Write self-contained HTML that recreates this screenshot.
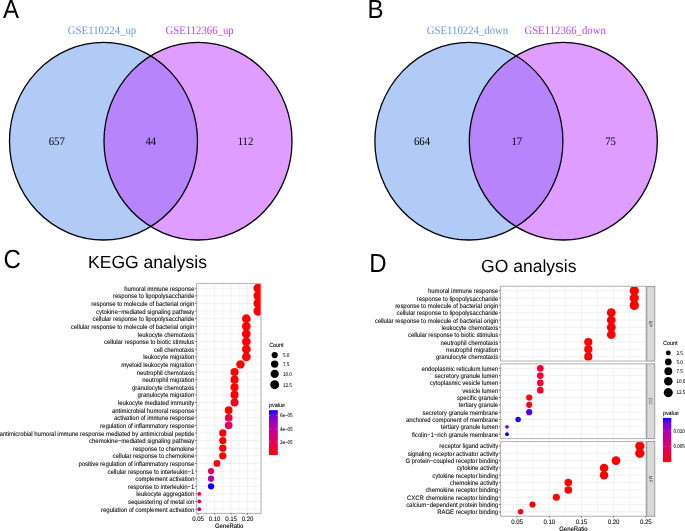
<!DOCTYPE html>
<html><head><meta charset="utf-8"><title>Figure</title>
<style>html,body{margin:0;padding:0;background:#fff;}svg{display:block;will-change:transform;}text{text-rendering:geometricPrecision;}</style></head>
<body><svg width="685" height="531" viewBox="0 0 685 531">
<rect width="685" height="531" fill="#fff"/>
<ellipse cx="103.5" cy="141.2" rx="94" ry="98.8" fill="#6495ED" fill-opacity="0.5"/>
<ellipse cx="198.0" cy="141.2" rx="94" ry="98.8" fill="#BF3EFF" fill-opacity="0.5"/>
<ellipse cx="103.5" cy="141.2" rx="94" ry="98.8" fill="none" stroke="#000" stroke-width="1.3"/>
<ellipse cx="198.0" cy="141.2" rx="94" ry="98.8" fill="none" stroke="#000" stroke-width="1.3"/>
<text transform="translate(102.00 33.50) scale(1.0000 1.0700)" font-family="'Liberation Serif', serif" font-size="10.750" fill="#6495ED" text-anchor="middle">GSE110224_up</text>
<text transform="translate(199.60 33.50) scale(1.0000 1.0700)" font-family="'Liberation Serif', serif" font-size="10.750" fill="#BF3EFF" text-anchor="middle">GSE112366_up</text>
<text transform="translate(56.75 144.90) scale(1.0000 1.0700)" font-family="'Liberation Serif', serif" font-size="10.750" fill="#000" text-anchor="middle">657</text>
<text transform="translate(150.80 144.90) scale(1.0000 1.0700)" font-family="'Liberation Serif', serif" font-size="10.750" fill="#000" text-anchor="middle">44</text>
<text transform="translate(245.50 144.90) scale(1.0000 1.0700)" font-family="'Liberation Serif', serif" font-size="10.750" fill="#000" text-anchor="middle">112</text>
<ellipse cx="468.9" cy="141.2" rx="94" ry="98.8" fill="#6495ED" fill-opacity="0.5"/>
<ellipse cx="563.3" cy="141.2" rx="94" ry="98.8" fill="#BF3EFF" fill-opacity="0.5"/>
<ellipse cx="468.9" cy="141.2" rx="94" ry="98.8" fill="none" stroke="#000" stroke-width="1.3"/>
<ellipse cx="563.3" cy="141.2" rx="94" ry="98.8" fill="none" stroke="#000" stroke-width="1.3"/>
<text transform="translate(467.50 33.50) scale(1.0000 1.0700)" font-family="'Liberation Serif', serif" font-size="10.750" fill="#6495ED" text-anchor="middle">GSE110224_down</text>
<text transform="translate(565.10 33.50) scale(1.0000 1.0700)" font-family="'Liberation Serif', serif" font-size="10.750" fill="#BF3EFF" text-anchor="middle">GSE112366_down</text>
<text transform="translate(422.00 144.90) scale(1.0000 1.0700)" font-family="'Liberation Serif', serif" font-size="10.750" fill="#000" text-anchor="middle">664</text>
<text transform="translate(516.80 144.90) scale(1.0000 1.0700)" font-family="'Liberation Serif', serif" font-size="10.750" fill="#000" text-anchor="middle">17</text>
<text transform="translate(610.50 144.90) scale(1.0000 1.0700)" font-family="'Liberation Serif', serif" font-size="10.750" fill="#000" text-anchor="middle">75</text>
<text transform="translate(3.00 17.90) scale(1.0000 1.0900)" font-family="'Liberation Sans', sans-serif" font-size="24.000" fill="#000">A</text>
<text transform="translate(367.50 17.90) scale(1.0000 1.0900)" font-family="'Liberation Sans', sans-serif" font-size="24.000" fill="#000">B</text>
<text transform="translate(3.50 268.20) scale(1.0000 1.0900)" font-family="'Liberation Sans', sans-serif" font-size="24.000" fill="#000">C</text>
<text transform="translate(369.20 272.10) scale(1.0000 1.0900)" font-family="'Liberation Sans', sans-serif" font-size="24.000" fill="#000">D</text>
<text x="88.10" y="267.80" font-family="'Liberation Sans', sans-serif" font-size="17.55" fill="#000">KEGG analysis</text>
<text x="481.00" y="271.80" font-family="'Liberation Sans', sans-serif" font-size="17.55" fill="#000">GO analysis</text>
<rect x="196.5" y="283.5" width="64.5" height="229.89999999999998" fill="#fff"/>
<line x1="206.33" y1="283.5" x2="206.33" y2="513.4" stroke="#f1f1f1" stroke-width="0.8"/>
<line x1="222.81" y1="283.5" x2="222.81" y2="513.4" stroke="#f1f1f1" stroke-width="0.8"/>
<line x1="239.27" y1="283.5" x2="239.27" y2="513.4" stroke="#f1f1f1" stroke-width="0.8"/>
<line x1="255.74" y1="283.5" x2="255.74" y2="513.4" stroke="#f1f1f1" stroke-width="0.8"/>
<line x1="198.10" y1="283.5" x2="198.10" y2="513.4" stroke="#f1f1f1" stroke-width="1"/>
<line x1="214.57" y1="283.5" x2="214.57" y2="513.4" stroke="#f1f1f1" stroke-width="1"/>
<line x1="231.04" y1="283.5" x2="231.04" y2="513.4" stroke="#f1f1f1" stroke-width="1"/>
<line x1="247.51" y1="283.5" x2="247.51" y2="513.4" stroke="#f1f1f1" stroke-width="1"/>
<line x1="196.5" y1="288.25" x2="261.0" y2="288.25" stroke="#f1f1f1" stroke-width="1"/>
<line x1="196.5" y1="295.87" x2="261.0" y2="295.87" stroke="#f1f1f1" stroke-width="1"/>
<line x1="196.5" y1="303.48" x2="261.0" y2="303.48" stroke="#f1f1f1" stroke-width="1"/>
<line x1="196.5" y1="311.10" x2="261.0" y2="311.10" stroke="#f1f1f1" stroke-width="1"/>
<line x1="196.5" y1="318.72" x2="261.0" y2="318.72" stroke="#f1f1f1" stroke-width="1"/>
<line x1="196.5" y1="326.34" x2="261.0" y2="326.34" stroke="#f1f1f1" stroke-width="1"/>
<line x1="196.5" y1="333.95" x2="261.0" y2="333.95" stroke="#f1f1f1" stroke-width="1"/>
<line x1="196.5" y1="341.57" x2="261.0" y2="341.57" stroke="#f1f1f1" stroke-width="1"/>
<line x1="196.5" y1="349.19" x2="261.0" y2="349.19" stroke="#f1f1f1" stroke-width="1"/>
<line x1="196.5" y1="356.81" x2="261.0" y2="356.81" stroke="#f1f1f1" stroke-width="1"/>
<line x1="196.5" y1="364.42" x2="261.0" y2="364.42" stroke="#f1f1f1" stroke-width="1"/>
<line x1="196.5" y1="372.04" x2="261.0" y2="372.04" stroke="#f1f1f1" stroke-width="1"/>
<line x1="196.5" y1="379.66" x2="261.0" y2="379.66" stroke="#f1f1f1" stroke-width="1"/>
<line x1="196.5" y1="387.27" x2="261.0" y2="387.27" stroke="#f1f1f1" stroke-width="1"/>
<line x1="196.5" y1="394.89" x2="261.0" y2="394.89" stroke="#f1f1f1" stroke-width="1"/>
<line x1="196.5" y1="402.51" x2="261.0" y2="402.51" stroke="#f1f1f1" stroke-width="1"/>
<line x1="196.5" y1="410.13" x2="261.0" y2="410.13" stroke="#f1f1f1" stroke-width="1"/>
<line x1="196.5" y1="417.74" x2="261.0" y2="417.74" stroke="#f1f1f1" stroke-width="1"/>
<line x1="196.5" y1="425.36" x2="261.0" y2="425.36" stroke="#f1f1f1" stroke-width="1"/>
<line x1="196.5" y1="432.98" x2="261.0" y2="432.98" stroke="#f1f1f1" stroke-width="1"/>
<line x1="196.5" y1="440.59" x2="261.0" y2="440.59" stroke="#f1f1f1" stroke-width="1"/>
<line x1="196.5" y1="448.21" x2="261.0" y2="448.21" stroke="#f1f1f1" stroke-width="1"/>
<line x1="196.5" y1="455.83" x2="261.0" y2="455.83" stroke="#f1f1f1" stroke-width="1"/>
<line x1="196.5" y1="463.45" x2="261.0" y2="463.45" stroke="#f1f1f1" stroke-width="1"/>
<line x1="196.5" y1="471.06" x2="261.0" y2="471.06" stroke="#f1f1f1" stroke-width="1"/>
<line x1="196.5" y1="478.68" x2="261.0" y2="478.68" stroke="#f1f1f1" stroke-width="1"/>
<line x1="196.5" y1="486.30" x2="261.0" y2="486.30" stroke="#f1f1f1" stroke-width="1"/>
<line x1="196.5" y1="493.92" x2="261.0" y2="493.92" stroke="#f1f1f1" stroke-width="1"/>
<line x1="196.5" y1="501.53" x2="261.0" y2="501.53" stroke="#f1f1f1" stroke-width="1"/>
<line x1="196.5" y1="509.15" x2="261.0" y2="509.15" stroke="#f1f1f1" stroke-width="1"/>
<clipPath id="ck"><rect x="196.5" y="283.5" width="64.5" height="229.89999999999998"/></clipPath>
<g clip-path="url(#ck)">
<circle cx="258.10" cy="288.25" r="4.65" fill="#ff0000"/>
<circle cx="258.10" cy="295.87" r="4.65" fill="#ff0000"/>
<circle cx="258.10" cy="303.48" r="4.65" fill="#ff0000"/>
<circle cx="258.10" cy="311.10" r="4.65" fill="#ff0000"/>
<circle cx="246.33" cy="318.72" r="4.36" fill="#ff0000"/>
<circle cx="246.33" cy="326.34" r="4.36" fill="#ff0000"/>
<circle cx="246.33" cy="333.95" r="4.36" fill="#ff0000"/>
<circle cx="246.33" cy="341.57" r="4.36" fill="#ff0000"/>
<circle cx="246.33" cy="349.19" r="4.36" fill="#ff0000"/>
<circle cx="246.33" cy="356.81" r="4.36" fill="#ff0000"/>
<circle cx="240.45" cy="364.42" r="4.20" fill="#ff0000"/>
<circle cx="234.57" cy="372.04" r="4.04" fill="#ff0000"/>
<circle cx="234.57" cy="379.66" r="4.04" fill="#ff0000"/>
<circle cx="234.57" cy="387.27" r="4.04" fill="#ff0000"/>
<circle cx="234.57" cy="394.89" r="4.04" fill="#ff0000"/>
<circle cx="234.57" cy="402.51" r="4.04" fill="#f6002a"/>
<circle cx="228.69" cy="410.13" r="3.85" fill="#ff0000"/>
<circle cx="228.69" cy="417.74" r="3.85" fill="#eb0048"/>
<circle cx="228.69" cy="425.36" r="3.85" fill="#e3005b"/>
<circle cx="222.81" cy="432.98" r="3.65" fill="#ff0000"/>
<circle cx="222.81" cy="440.59" r="3.65" fill="#ff0000"/>
<circle cx="222.81" cy="448.21" r="3.65" fill="#ff0000"/>
<circle cx="222.81" cy="455.83" r="3.65" fill="#ff0000"/>
<circle cx="216.92" cy="463.45" r="3.42" fill="#fc0012"/>
<circle cx="211.04" cy="471.06" r="3.14" fill="#df0062"/>
<circle cx="211.04" cy="478.68" r="3.14" fill="#ae00ad"/>
<circle cx="211.04" cy="486.30" r="3.14" fill="#0000ff"/>
<circle cx="199.28" cy="493.92" r="1.93" fill="#f90021"/>
<circle cx="199.28" cy="501.53" r="1.93" fill="#f50030"/>
<circle cx="199.28" cy="509.15" r="1.93" fill="#ca0088"/>
</g>
<rect x="196.5" y="283.5" width="64.5" height="229.89999999999998" fill="none" stroke="#bababa" stroke-width="1.15"/>
<line x1="195.1" y1="288.25" x2="196.5" y2="288.25" stroke="#333" stroke-width="0.7"/>
<text transform="translate(194.20 290.80) scale(0.2500 0.2750)" font-family="'Liberation Sans', sans-serif" font-size="23.680" fill="#111" text-anchor="end">humoral immune response</text>
<text transform="translate(194.45 290.80) scale(0.2500 0.2750)" font-family="'Liberation Sans', sans-serif" font-size="23.680" fill="#111" fill-opacity="0.4" text-anchor="end">humoral immune response</text>
<line x1="195.1" y1="295.87" x2="196.5" y2="295.87" stroke="#333" stroke-width="0.7"/>
<text transform="translate(194.20 298.42) scale(0.2500 0.2750)" font-family="'Liberation Sans', sans-serif" font-size="23.680" fill="#111" text-anchor="end">response to lipopolysaccharide</text>
<text transform="translate(194.45 298.42) scale(0.2500 0.2750)" font-family="'Liberation Sans', sans-serif" font-size="23.680" fill="#111" fill-opacity="0.4" text-anchor="end">response to lipopolysaccharide</text>
<line x1="195.1" y1="303.48" x2="196.5" y2="303.48" stroke="#333" stroke-width="0.7"/>
<text transform="translate(194.20 306.03) scale(0.2500 0.2750)" font-family="'Liberation Sans', sans-serif" font-size="23.680" fill="#111" text-anchor="end">response to molecule of bacterial origin</text>
<text transform="translate(194.45 306.03) scale(0.2500 0.2750)" font-family="'Liberation Sans', sans-serif" font-size="23.680" fill="#111" fill-opacity="0.4" text-anchor="end">response to molecule of bacterial origin</text>
<line x1="195.1" y1="311.10" x2="196.5" y2="311.10" stroke="#333" stroke-width="0.7"/>
<text transform="translate(194.20 313.65) scale(0.2500 0.2750)" font-family="'Liberation Sans', sans-serif" font-size="23.680" fill="#111" text-anchor="end">cytokine−mediated signaling pathway</text>
<text transform="translate(194.45 313.65) scale(0.2500 0.2750)" font-family="'Liberation Sans', sans-serif" font-size="23.680" fill="#111" fill-opacity="0.4" text-anchor="end">cytokine−mediated signaling pathway</text>
<line x1="195.1" y1="318.72" x2="196.5" y2="318.72" stroke="#333" stroke-width="0.7"/>
<text transform="translate(194.20 321.27) scale(0.2500 0.2750)" font-family="'Liberation Sans', sans-serif" font-size="23.680" fill="#111" text-anchor="end">cellular response to lipopolysaccharide</text>
<text transform="translate(194.45 321.27) scale(0.2500 0.2750)" font-family="'Liberation Sans', sans-serif" font-size="23.680" fill="#111" fill-opacity="0.4" text-anchor="end">cellular response to lipopolysaccharide</text>
<line x1="195.1" y1="326.34" x2="196.5" y2="326.34" stroke="#333" stroke-width="0.7"/>
<text transform="translate(194.20 328.89) scale(0.2500 0.2750)" font-family="'Liberation Sans', sans-serif" font-size="23.680" fill="#111" text-anchor="end">cellular response to molecule of bacterial origin</text>
<text transform="translate(194.45 328.89) scale(0.2500 0.2750)" font-family="'Liberation Sans', sans-serif" font-size="23.680" fill="#111" fill-opacity="0.4" text-anchor="end">cellular response to molecule of bacterial origin</text>
<line x1="195.1" y1="333.95" x2="196.5" y2="333.95" stroke="#333" stroke-width="0.7"/>
<text transform="translate(194.20 336.50) scale(0.2500 0.2750)" font-family="'Liberation Sans', sans-serif" font-size="23.680" fill="#111" text-anchor="end">leukocyte chemotaxis</text>
<text transform="translate(194.45 336.50) scale(0.2500 0.2750)" font-family="'Liberation Sans', sans-serif" font-size="23.680" fill="#111" fill-opacity="0.4" text-anchor="end">leukocyte chemotaxis</text>
<line x1="195.1" y1="341.57" x2="196.5" y2="341.57" stroke="#333" stroke-width="0.7"/>
<text transform="translate(194.20 344.12) scale(0.2500 0.2750)" font-family="'Liberation Sans', sans-serif" font-size="23.680" fill="#111" text-anchor="end">cellular response to biotic stimulus</text>
<text transform="translate(194.45 344.12) scale(0.2500 0.2750)" font-family="'Liberation Sans', sans-serif" font-size="23.680" fill="#111" fill-opacity="0.4" text-anchor="end">cellular response to biotic stimulus</text>
<line x1="195.1" y1="349.19" x2="196.5" y2="349.19" stroke="#333" stroke-width="0.7"/>
<text transform="translate(194.20 351.74) scale(0.2500 0.2750)" font-family="'Liberation Sans', sans-serif" font-size="23.680" fill="#111" text-anchor="end">cell chemotaxis</text>
<text transform="translate(194.45 351.74) scale(0.2500 0.2750)" font-family="'Liberation Sans', sans-serif" font-size="23.680" fill="#111" fill-opacity="0.4" text-anchor="end">cell chemotaxis</text>
<line x1="195.1" y1="356.81" x2="196.5" y2="356.81" stroke="#333" stroke-width="0.7"/>
<text transform="translate(194.20 359.36) scale(0.2500 0.2750)" font-family="'Liberation Sans', sans-serif" font-size="23.680" fill="#111" text-anchor="end">leukocyte migration</text>
<text transform="translate(194.45 359.36) scale(0.2500 0.2750)" font-family="'Liberation Sans', sans-serif" font-size="23.680" fill="#111" fill-opacity="0.4" text-anchor="end">leukocyte migration</text>
<line x1="195.1" y1="364.42" x2="196.5" y2="364.42" stroke="#333" stroke-width="0.7"/>
<text transform="translate(194.20 366.97) scale(0.2500 0.2750)" font-family="'Liberation Sans', sans-serif" font-size="23.680" fill="#111" text-anchor="end">myeloid leukocyte migration</text>
<text transform="translate(194.45 366.97) scale(0.2500 0.2750)" font-family="'Liberation Sans', sans-serif" font-size="23.680" fill="#111" fill-opacity="0.4" text-anchor="end">myeloid leukocyte migration</text>
<line x1="195.1" y1="372.04" x2="196.5" y2="372.04" stroke="#333" stroke-width="0.7"/>
<text transform="translate(194.20 374.59) scale(0.2500 0.2750)" font-family="'Liberation Sans', sans-serif" font-size="23.680" fill="#111" text-anchor="end">neutrophil chemotaxis</text>
<text transform="translate(194.45 374.59) scale(0.2500 0.2750)" font-family="'Liberation Sans', sans-serif" font-size="23.680" fill="#111" fill-opacity="0.4" text-anchor="end">neutrophil chemotaxis</text>
<line x1="195.1" y1="379.66" x2="196.5" y2="379.66" stroke="#333" stroke-width="0.7"/>
<text transform="translate(194.20 382.21) scale(0.2500 0.2750)" font-family="'Liberation Sans', sans-serif" font-size="23.680" fill="#111" text-anchor="end">neutrophil migration</text>
<text transform="translate(194.45 382.21) scale(0.2500 0.2750)" font-family="'Liberation Sans', sans-serif" font-size="23.680" fill="#111" fill-opacity="0.4" text-anchor="end">neutrophil migration</text>
<line x1="195.1" y1="387.27" x2="196.5" y2="387.27" stroke="#333" stroke-width="0.7"/>
<text transform="translate(194.20 389.82) scale(0.2500 0.2750)" font-family="'Liberation Sans', sans-serif" font-size="23.680" fill="#111" text-anchor="end">granulocyte chemotaxis</text>
<text transform="translate(194.45 389.82) scale(0.2500 0.2750)" font-family="'Liberation Sans', sans-serif" font-size="23.680" fill="#111" fill-opacity="0.4" text-anchor="end">granulocyte chemotaxis</text>
<line x1="195.1" y1="394.89" x2="196.5" y2="394.89" stroke="#333" stroke-width="0.7"/>
<text transform="translate(194.20 397.44) scale(0.2500 0.2750)" font-family="'Liberation Sans', sans-serif" font-size="23.680" fill="#111" text-anchor="end">granulocyte migration</text>
<text transform="translate(194.45 397.44) scale(0.2500 0.2750)" font-family="'Liberation Sans', sans-serif" font-size="23.680" fill="#111" fill-opacity="0.4" text-anchor="end">granulocyte migration</text>
<line x1="195.1" y1="402.51" x2="196.5" y2="402.51" stroke="#333" stroke-width="0.7"/>
<text transform="translate(194.20 405.06) scale(0.2500 0.2750)" font-family="'Liberation Sans', sans-serif" font-size="23.680" fill="#111" text-anchor="end">leukocyte mediated immunity</text>
<text transform="translate(194.45 405.06) scale(0.2500 0.2750)" font-family="'Liberation Sans', sans-serif" font-size="23.680" fill="#111" fill-opacity="0.4" text-anchor="end">leukocyte mediated immunity</text>
<line x1="195.1" y1="410.13" x2="196.5" y2="410.13" stroke="#333" stroke-width="0.7"/>
<text transform="translate(194.20 412.68) scale(0.2500 0.2750)" font-family="'Liberation Sans', sans-serif" font-size="23.680" fill="#111" text-anchor="end">antimicrobial humoral response</text>
<text transform="translate(194.45 412.68) scale(0.2500 0.2750)" font-family="'Liberation Sans', sans-serif" font-size="23.680" fill="#111" fill-opacity="0.4" text-anchor="end">antimicrobial humoral response</text>
<line x1="195.1" y1="417.74" x2="196.5" y2="417.74" stroke="#333" stroke-width="0.7"/>
<text transform="translate(194.20 420.29) scale(0.2500 0.2750)" font-family="'Liberation Sans', sans-serif" font-size="23.680" fill="#111" text-anchor="end">activation of immune response</text>
<text transform="translate(194.45 420.29) scale(0.2500 0.2750)" font-family="'Liberation Sans', sans-serif" font-size="23.680" fill="#111" fill-opacity="0.4" text-anchor="end">activation of immune response</text>
<line x1="195.1" y1="425.36" x2="196.5" y2="425.36" stroke="#333" stroke-width="0.7"/>
<text transform="translate(194.20 427.91) scale(0.2500 0.2750)" font-family="'Liberation Sans', sans-serif" font-size="23.680" fill="#111" text-anchor="end">regulation of inflammatory response</text>
<text transform="translate(194.45 427.91) scale(0.2500 0.2750)" font-family="'Liberation Sans', sans-serif" font-size="23.680" fill="#111" fill-opacity="0.4" text-anchor="end">regulation of inflammatory response</text>
<line x1="195.1" y1="432.98" x2="196.5" y2="432.98" stroke="#333" stroke-width="0.7"/>
<text transform="translate(194.20 435.53) scale(0.2500 0.2750)" font-family="'Liberation Sans', sans-serif" font-size="23.680" fill="#111" text-anchor="end">antimicrobial humoral immune response mediated by antimicrobial peptide</text>
<text transform="translate(194.45 435.53) scale(0.2500 0.2750)" font-family="'Liberation Sans', sans-serif" font-size="23.680" fill="#111" fill-opacity="0.4" text-anchor="end">antimicrobial humoral immune response mediated by antimicrobial peptide</text>
<line x1="195.1" y1="440.59" x2="196.5" y2="440.59" stroke="#333" stroke-width="0.7"/>
<text transform="translate(194.20 443.14) scale(0.2500 0.2750)" font-family="'Liberation Sans', sans-serif" font-size="23.680" fill="#111" text-anchor="end">chemokine−mediated signaling pathway</text>
<text transform="translate(194.45 443.14) scale(0.2500 0.2750)" font-family="'Liberation Sans', sans-serif" font-size="23.680" fill="#111" fill-opacity="0.4" text-anchor="end">chemokine−mediated signaling pathway</text>
<line x1="195.1" y1="448.21" x2="196.5" y2="448.21" stroke="#333" stroke-width="0.7"/>
<text transform="translate(194.20 450.76) scale(0.2500 0.2750)" font-family="'Liberation Sans', sans-serif" font-size="23.680" fill="#111" text-anchor="end">response to chemokine</text>
<text transform="translate(194.45 450.76) scale(0.2500 0.2750)" font-family="'Liberation Sans', sans-serif" font-size="23.680" fill="#111" fill-opacity="0.4" text-anchor="end">response to chemokine</text>
<line x1="195.1" y1="455.83" x2="196.5" y2="455.83" stroke="#333" stroke-width="0.7"/>
<text transform="translate(194.20 458.38) scale(0.2500 0.2750)" font-family="'Liberation Sans', sans-serif" font-size="23.680" fill="#111" text-anchor="end">cellular response to chemokine</text>
<text transform="translate(194.45 458.38) scale(0.2500 0.2750)" font-family="'Liberation Sans', sans-serif" font-size="23.680" fill="#111" fill-opacity="0.4" text-anchor="end">cellular response to chemokine</text>
<line x1="195.1" y1="463.45" x2="196.5" y2="463.45" stroke="#333" stroke-width="0.7"/>
<text transform="translate(194.20 466.00) scale(0.2500 0.2750)" font-family="'Liberation Sans', sans-serif" font-size="23.680" fill="#111" text-anchor="end">positive regulation of inflammatory response</text>
<text transform="translate(194.45 466.00) scale(0.2500 0.2750)" font-family="'Liberation Sans', sans-serif" font-size="23.680" fill="#111" fill-opacity="0.4" text-anchor="end">positive regulation of inflammatory response</text>
<line x1="195.1" y1="471.06" x2="196.5" y2="471.06" stroke="#333" stroke-width="0.7"/>
<text transform="translate(194.20 473.61) scale(0.2500 0.2750)" font-family="'Liberation Sans', sans-serif" font-size="23.680" fill="#111" text-anchor="end">cellular response to interleukin−1</text>
<text transform="translate(194.45 473.61) scale(0.2500 0.2750)" font-family="'Liberation Sans', sans-serif" font-size="23.680" fill="#111" fill-opacity="0.4" text-anchor="end">cellular response to interleukin−1</text>
<line x1="195.1" y1="478.68" x2="196.5" y2="478.68" stroke="#333" stroke-width="0.7"/>
<text transform="translate(194.20 481.23) scale(0.2500 0.2750)" font-family="'Liberation Sans', sans-serif" font-size="23.680" fill="#111" text-anchor="end">complement activation</text>
<text transform="translate(194.45 481.23) scale(0.2500 0.2750)" font-family="'Liberation Sans', sans-serif" font-size="23.680" fill="#111" fill-opacity="0.4" text-anchor="end">complement activation</text>
<line x1="195.1" y1="486.30" x2="196.5" y2="486.30" stroke="#333" stroke-width="0.7"/>
<text transform="translate(194.20 488.85) scale(0.2500 0.2750)" font-family="'Liberation Sans', sans-serif" font-size="23.680" fill="#111" text-anchor="end">response to interleukin−1</text>
<text transform="translate(194.45 488.85) scale(0.2500 0.2750)" font-family="'Liberation Sans', sans-serif" font-size="23.680" fill="#111" fill-opacity="0.4" text-anchor="end">response to interleukin−1</text>
<line x1="195.1" y1="493.92" x2="196.5" y2="493.92" stroke="#333" stroke-width="0.7"/>
<text transform="translate(194.20 496.47) scale(0.2500 0.2750)" font-family="'Liberation Sans', sans-serif" font-size="23.680" fill="#111" text-anchor="end">leukocyte aggregation</text>
<text transform="translate(194.45 496.47) scale(0.2500 0.2750)" font-family="'Liberation Sans', sans-serif" font-size="23.680" fill="#111" fill-opacity="0.4" text-anchor="end">leukocyte aggregation</text>
<line x1="195.1" y1="501.53" x2="196.5" y2="501.53" stroke="#333" stroke-width="0.7"/>
<text transform="translate(194.20 504.08) scale(0.2500 0.2750)" font-family="'Liberation Sans', sans-serif" font-size="23.680" fill="#111" text-anchor="end">sequestering of metal ion</text>
<text transform="translate(194.45 504.08) scale(0.2500 0.2750)" font-family="'Liberation Sans', sans-serif" font-size="23.680" fill="#111" fill-opacity="0.4" text-anchor="end">sequestering of metal ion</text>
<line x1="195.1" y1="509.15" x2="196.5" y2="509.15" stroke="#333" stroke-width="0.7"/>
<text transform="translate(194.20 511.70) scale(0.2500 0.2750)" font-family="'Liberation Sans', sans-serif" font-size="23.680" fill="#111" text-anchor="end">regulation of complement activation</text>
<text transform="translate(194.45 511.70) scale(0.2500 0.2750)" font-family="'Liberation Sans', sans-serif" font-size="23.680" fill="#111" fill-opacity="0.4" text-anchor="end">regulation of complement activation</text>
<line x1="198.10" y1="513.4" x2="198.10" y2="514.8" stroke="#333" stroke-width="0.7"/>
<text transform="translate(198.10 520.80) scale(0.2500 0.2750)" font-family="'Liberation Sans', sans-serif" font-size="23.680" fill="#111" text-anchor="middle">0.05</text>
<text transform="translate(198.35 520.80) scale(0.2500 0.2750)" font-family="'Liberation Sans', sans-serif" font-size="23.680" fill="#111" fill-opacity="0.4" text-anchor="middle">0.05</text>
<line x1="214.57" y1="513.4" x2="214.57" y2="514.8" stroke="#333" stroke-width="0.7"/>
<text transform="translate(214.57 520.80) scale(0.2500 0.2750)" font-family="'Liberation Sans', sans-serif" font-size="23.680" fill="#111" text-anchor="middle">0.10</text>
<text transform="translate(214.82 520.80) scale(0.2500 0.2750)" font-family="'Liberation Sans', sans-serif" font-size="23.680" fill="#111" fill-opacity="0.4" text-anchor="middle">0.10</text>
<line x1="231.04" y1="513.4" x2="231.04" y2="514.8" stroke="#333" stroke-width="0.7"/>
<text transform="translate(231.04 520.80) scale(0.2500 0.2750)" font-family="'Liberation Sans', sans-serif" font-size="23.680" fill="#111" text-anchor="middle">0.15</text>
<text transform="translate(231.29 520.80) scale(0.2500 0.2750)" font-family="'Liberation Sans', sans-serif" font-size="23.680" fill="#111" fill-opacity="0.4" text-anchor="middle">0.15</text>
<line x1="247.51" y1="513.4" x2="247.51" y2="514.8" stroke="#333" stroke-width="0.7"/>
<text transform="translate(247.51 520.80) scale(0.2500 0.2750)" font-family="'Liberation Sans', sans-serif" font-size="23.680" fill="#111" text-anchor="middle">0.20</text>
<text transform="translate(247.76 520.80) scale(0.2500 0.2750)" font-family="'Liberation Sans', sans-serif" font-size="23.680" fill="#111" fill-opacity="0.4" text-anchor="middle">0.20</text>
<text transform="translate(229.10 527.60) scale(0.2500 0.2750)" font-family="'Liberation Sans', sans-serif" font-size="23.680" fill="#000" text-anchor="middle">GeneRatio</text>
<text transform="translate(229.35 527.60) scale(0.2500 0.2750)" font-family="'Liberation Sans', sans-serif" font-size="23.680" fill="#000" fill-opacity="0.4" text-anchor="middle">GeneRatio</text>
<text transform="translate(269.20 347.20) scale(0.2500 0.2750)" font-family="'Liberation Sans', sans-serif" font-size="21.600" fill="#000">Count</text>
<text transform="translate(269.45 347.20) scale(0.2500 0.2750)" font-family="'Liberation Sans', sans-serif" font-size="21.600" fill="#000" fill-opacity="0.4">Count</text>
<circle cx="274.7" cy="355.1" r="3.1" fill="#000"/>
<text transform="translate(283.10 356.90) scale(0.2500 0.3000)" font-family="'Liberation Sans', sans-serif" font-size="17.800" fill="#111">5.0</text>
<text transform="translate(283.35 356.90) scale(0.2500 0.3000)" font-family="'Liberation Sans', sans-serif" font-size="17.800" fill="#111" fill-opacity="0.4">5.0</text>
<circle cx="274.7" cy="364.1" r="3.7" fill="#000"/>
<text transform="translate(283.10 365.90) scale(0.2500 0.3000)" font-family="'Liberation Sans', sans-serif" font-size="17.800" fill="#111">7.5</text>
<text transform="translate(283.35 365.90) scale(0.2500 0.3000)" font-family="'Liberation Sans', sans-serif" font-size="17.800" fill="#111" fill-opacity="0.4">7.5</text>
<circle cx="274.7" cy="373.9" r="4.125" fill="#000"/>
<text transform="translate(283.10 375.70) scale(0.2500 0.3000)" font-family="'Liberation Sans', sans-serif" font-size="17.800" fill="#111">10.0</text>
<text transform="translate(283.35 375.70) scale(0.2500 0.3000)" font-family="'Liberation Sans', sans-serif" font-size="17.800" fill="#111" fill-opacity="0.4">10.0</text>
<circle cx="274.7" cy="384.7" r="4.45" fill="#000"/>
<text transform="translate(283.10 386.50) scale(0.2500 0.3000)" font-family="'Liberation Sans', sans-serif" font-size="17.800" fill="#111">12.5</text>
<text transform="translate(283.35 386.50) scale(0.2500 0.3000)" font-family="'Liberation Sans', sans-serif" font-size="17.800" fill="#111" fill-opacity="0.4">12.5</text>
<text transform="translate(269.00 407.30) scale(0.2500 0.2750)" font-family="'Liberation Sans', sans-serif" font-size="21.600" fill="#000">pvalue</text>
<text transform="translate(269.25 407.30) scale(0.2500 0.2750)" font-family="'Liberation Sans', sans-serif" font-size="21.600" fill="#000" fill-opacity="0.4">pvalue</text>
<linearGradient id="gk" x1="0" y1="0" x2="0" y2="1"><stop offset="0.0" stop-color="#0000ff"/><stop offset="0.1" stop-color="#6800e7"/><stop offset="0.2" stop-color="#8d00ce"/><stop offset="0.3" stop-color="#a600b7"/><stop offset="0.4" stop-color="#ba009f"/><stop offset="0.5" stop-color="#ca0088"/><stop offset="0.6" stop-color="#d70072"/><stop offset="0.7" stop-color="#e3005b"/><stop offset="0.8" stop-color="#ed0044"/><stop offset="0.9" stop-color="#f6002a"/><stop offset="1.0" stop-color="#ff0000"/></linearGradient>
<rect x="269" y="410.2" width="8.80" height="44.80" fill="url(#gk)"/>
<line x1="269" y1="415.4" x2="270.6" y2="415.4" stroke="#fff" stroke-width="0.5" stroke-opacity="0.6"/>
<line x1="276.2" y1="415.4" x2="277.8" y2="415.4" stroke="#fff" stroke-width="0.5" stroke-opacity="0.6"/>
<text transform="translate(280.00 417.20) scale(0.2500 0.3000)" font-family="'Liberation Sans', sans-serif" font-size="17.800" fill="#111">6e−05</text>
<text transform="translate(280.25 417.20) scale(0.2500 0.3000)" font-family="'Liberation Sans', sans-serif" font-size="17.800" fill="#111" fill-opacity="0.4">6e−05</text>
<line x1="269" y1="428.9" x2="270.6" y2="428.9" stroke="#fff" stroke-width="0.5" stroke-opacity="0.6"/>
<line x1="276.2" y1="428.9" x2="277.8" y2="428.9" stroke="#fff" stroke-width="0.5" stroke-opacity="0.6"/>
<text transform="translate(280.00 430.70) scale(0.2500 0.3000)" font-family="'Liberation Sans', sans-serif" font-size="17.800" fill="#111">4e−05</text>
<text transform="translate(280.25 430.70) scale(0.2500 0.3000)" font-family="'Liberation Sans', sans-serif" font-size="17.800" fill="#111" fill-opacity="0.4">4e−05</text>
<line x1="269" y1="441.8" x2="270.6" y2="441.8" stroke="#fff" stroke-width="0.5" stroke-opacity="0.6"/>
<line x1="276.2" y1="441.8" x2="277.8" y2="441.8" stroke="#fff" stroke-width="0.5" stroke-opacity="0.6"/>
<text transform="translate(280.00 443.60) scale(0.2500 0.3000)" font-family="'Liberation Sans', sans-serif" font-size="17.800" fill="#111">2e−05</text>
<text transform="translate(280.25 443.60) scale(0.2500 0.3000)" font-family="'Liberation Sans', sans-serif" font-size="17.800" fill="#111" fill-opacity="0.4">2e−05</text>
<rect x="500.4" y="286.35" width="145.89999999999998" height="74.69999999999999" fill="#fff"/>
<line x1="500.90" y1="286.35" x2="500.90" y2="361.05" stroke="#f1f1f1" stroke-width="0.8"/>
<line x1="533.10" y1="286.35" x2="533.10" y2="361.05" stroke="#f1f1f1" stroke-width="0.8"/>
<line x1="565.30" y1="286.35" x2="565.30" y2="361.05" stroke="#f1f1f1" stroke-width="0.8"/>
<line x1="597.50" y1="286.35" x2="597.50" y2="361.05" stroke="#f1f1f1" stroke-width="0.8"/>
<line x1="629.70" y1="286.35" x2="629.70" y2="361.05" stroke="#f1f1f1" stroke-width="0.8"/>
<line x1="517.00" y1="286.35" x2="517.00" y2="361.05" stroke="#f1f1f1" stroke-width="1"/>
<line x1="549.20" y1="286.35" x2="549.20" y2="361.05" stroke="#f1f1f1" stroke-width="1"/>
<line x1="581.40" y1="286.35" x2="581.40" y2="361.05" stroke="#f1f1f1" stroke-width="1"/>
<line x1="613.60" y1="286.35" x2="613.60" y2="361.05" stroke="#f1f1f1" stroke-width="1"/>
<line x1="645.80" y1="286.35" x2="645.80" y2="361.05" stroke="#f1f1f1" stroke-width="1"/>
<line x1="500.4" y1="290.74" x2="646.3" y2="290.74" stroke="#f1f1f1" stroke-width="1"/>
<line x1="500.4" y1="298.07" x2="646.3" y2="298.07" stroke="#f1f1f1" stroke-width="1"/>
<line x1="500.4" y1="305.39" x2="646.3" y2="305.39" stroke="#f1f1f1" stroke-width="1"/>
<line x1="500.4" y1="312.71" x2="646.3" y2="312.71" stroke="#f1f1f1" stroke-width="1"/>
<line x1="500.4" y1="320.04" x2="646.3" y2="320.04" stroke="#f1f1f1" stroke-width="1"/>
<line x1="500.4" y1="327.36" x2="646.3" y2="327.36" stroke="#f1f1f1" stroke-width="1"/>
<line x1="500.4" y1="334.69" x2="646.3" y2="334.69" stroke="#f1f1f1" stroke-width="1"/>
<line x1="500.4" y1="342.01" x2="646.3" y2="342.01" stroke="#f1f1f1" stroke-width="1"/>
<line x1="500.4" y1="349.33" x2="646.3" y2="349.33" stroke="#f1f1f1" stroke-width="1"/>
<line x1="500.4" y1="356.66" x2="646.3" y2="356.66" stroke="#f1f1f1" stroke-width="1"/>
<clipPath id="cg0"><rect x="500.4" y="286.35" width="145.89999999999998" height="74.69999999999999"/></clipPath>
<g clip-path="url(#cg0)">
<circle cx="634.30" cy="290.74" r="4.65" fill="#ff0000"/>
<circle cx="634.30" cy="298.07" r="4.65" fill="#ff0000"/>
<circle cx="634.30" cy="305.39" r="4.65" fill="#ff0000"/>
<circle cx="611.30" cy="312.71" r="4.39" fill="#ff0000"/>
<circle cx="611.30" cy="320.04" r="4.39" fill="#ff0000"/>
<circle cx="611.30" cy="327.36" r="4.39" fill="#ff0000"/>
<circle cx="611.30" cy="334.69" r="4.39" fill="#ff0000"/>
<circle cx="588.30" cy="342.01" r="4.10" fill="#ff0000"/>
<circle cx="588.30" cy="349.33" r="4.10" fill="#ff0000"/>
<circle cx="588.30" cy="356.66" r="4.10" fill="#ff0000"/>
</g>
<rect x="500.4" y="286.35" width="145.89999999999998" height="74.69999999999999" fill="none" stroke="#bababa" stroke-width="1.15"/>
<line x1="499.0" y1="290.74" x2="500.4" y2="290.74" stroke="#333" stroke-width="0.7"/>
<text transform="translate(498.10 293.29) scale(0.2500 0.2750)" font-family="'Liberation Sans', sans-serif" font-size="23.680" fill="#111" text-anchor="end">humoral immune response</text>
<text transform="translate(498.35 293.29) scale(0.2500 0.2750)" font-family="'Liberation Sans', sans-serif" font-size="23.680" fill="#111" fill-opacity="0.4" text-anchor="end">humoral immune response</text>
<line x1="499.0" y1="298.07" x2="500.4" y2="298.07" stroke="#333" stroke-width="0.7"/>
<text transform="translate(498.10 300.62) scale(0.2500 0.2750)" font-family="'Liberation Sans', sans-serif" font-size="23.680" fill="#111" text-anchor="end">response to lipopolysaccharide</text>
<text transform="translate(498.35 300.62) scale(0.2500 0.2750)" font-family="'Liberation Sans', sans-serif" font-size="23.680" fill="#111" fill-opacity="0.4" text-anchor="end">response to lipopolysaccharide</text>
<line x1="499.0" y1="305.39" x2="500.4" y2="305.39" stroke="#333" stroke-width="0.7"/>
<text transform="translate(498.10 307.94) scale(0.2500 0.2750)" font-family="'Liberation Sans', sans-serif" font-size="23.680" fill="#111" text-anchor="end">response to molecule of bacterial origin</text>
<text transform="translate(498.35 307.94) scale(0.2500 0.2750)" font-family="'Liberation Sans', sans-serif" font-size="23.680" fill="#111" fill-opacity="0.4" text-anchor="end">response to molecule of bacterial origin</text>
<line x1="499.0" y1="312.71" x2="500.4" y2="312.71" stroke="#333" stroke-width="0.7"/>
<text transform="translate(498.10 315.26) scale(0.2500 0.2750)" font-family="'Liberation Sans', sans-serif" font-size="23.680" fill="#111" text-anchor="end">cellular response to lipopolysaccharide</text>
<text transform="translate(498.35 315.26) scale(0.2500 0.2750)" font-family="'Liberation Sans', sans-serif" font-size="23.680" fill="#111" fill-opacity="0.4" text-anchor="end">cellular response to lipopolysaccharide</text>
<line x1="499.0" y1="320.04" x2="500.4" y2="320.04" stroke="#333" stroke-width="0.7"/>
<text transform="translate(498.10 322.59) scale(0.2500 0.2750)" font-family="'Liberation Sans', sans-serif" font-size="23.680" fill="#111" text-anchor="end">cellular response to molecule of bacterial origin</text>
<text transform="translate(498.35 322.59) scale(0.2500 0.2750)" font-family="'Liberation Sans', sans-serif" font-size="23.680" fill="#111" fill-opacity="0.4" text-anchor="end">cellular response to molecule of bacterial origin</text>
<line x1="499.0" y1="327.36" x2="500.4" y2="327.36" stroke="#333" stroke-width="0.7"/>
<text transform="translate(498.10 329.91) scale(0.2500 0.2750)" font-family="'Liberation Sans', sans-serif" font-size="23.680" fill="#111" text-anchor="end">leukocyte chemotaxis</text>
<text transform="translate(498.35 329.91) scale(0.2500 0.2750)" font-family="'Liberation Sans', sans-serif" font-size="23.680" fill="#111" fill-opacity="0.4" text-anchor="end">leukocyte chemotaxis</text>
<line x1="499.0" y1="334.69" x2="500.4" y2="334.69" stroke="#333" stroke-width="0.7"/>
<text transform="translate(498.10 337.24) scale(0.2500 0.2750)" font-family="'Liberation Sans', sans-serif" font-size="23.680" fill="#111" text-anchor="end">cellular response to biotic stimulus</text>
<text transform="translate(498.35 337.24) scale(0.2500 0.2750)" font-family="'Liberation Sans', sans-serif" font-size="23.680" fill="#111" fill-opacity="0.4" text-anchor="end">cellular response to biotic stimulus</text>
<line x1="499.0" y1="342.01" x2="500.4" y2="342.01" stroke="#333" stroke-width="0.7"/>
<text transform="translate(498.10 344.56) scale(0.2500 0.2750)" font-family="'Liberation Sans', sans-serif" font-size="23.680" fill="#111" text-anchor="end">neutrophil chemotaxis</text>
<text transform="translate(498.35 344.56) scale(0.2500 0.2750)" font-family="'Liberation Sans', sans-serif" font-size="23.680" fill="#111" fill-opacity="0.4" text-anchor="end">neutrophil chemotaxis</text>
<line x1="499.0" y1="349.33" x2="500.4" y2="349.33" stroke="#333" stroke-width="0.7"/>
<text transform="translate(498.10 351.88) scale(0.2500 0.2750)" font-family="'Liberation Sans', sans-serif" font-size="23.680" fill="#111" text-anchor="end">neutrophil migration</text>
<text transform="translate(498.35 351.88) scale(0.2500 0.2750)" font-family="'Liberation Sans', sans-serif" font-size="23.680" fill="#111" fill-opacity="0.4" text-anchor="end">neutrophil migration</text>
<line x1="499.0" y1="356.66" x2="500.4" y2="356.66" stroke="#333" stroke-width="0.7"/>
<text transform="translate(498.10 359.21) scale(0.2500 0.2750)" font-family="'Liberation Sans', sans-serif" font-size="23.680" fill="#111" text-anchor="end">granulocyte chemotaxis</text>
<text transform="translate(498.35 359.21) scale(0.2500 0.2750)" font-family="'Liberation Sans', sans-serif" font-size="23.680" fill="#111" fill-opacity="0.4" text-anchor="end">granulocyte chemotaxis</text>
<rect x="646.8" y="286.35" width="8" height="74.70" fill="#d9d9d9" stroke="#8a8a8a" stroke-width="0.8"/>
<text x="0" y="0" transform="translate(649.2 323.70) rotate(90)" font-family="'Liberation Sans', sans-serif" font-size="4.8" fill="#333" text-anchor="middle">BP</text>
<rect x="500.4" y="363.85" width="145.89999999999998" height="74.69999999999999" fill="#fff"/>
<line x1="500.90" y1="363.85" x2="500.90" y2="438.55" stroke="#f1f1f1" stroke-width="0.8"/>
<line x1="533.10" y1="363.85" x2="533.10" y2="438.55" stroke="#f1f1f1" stroke-width="0.8"/>
<line x1="565.30" y1="363.85" x2="565.30" y2="438.55" stroke="#f1f1f1" stroke-width="0.8"/>
<line x1="597.50" y1="363.85" x2="597.50" y2="438.55" stroke="#f1f1f1" stroke-width="0.8"/>
<line x1="629.70" y1="363.85" x2="629.70" y2="438.55" stroke="#f1f1f1" stroke-width="0.8"/>
<line x1="517.00" y1="363.85" x2="517.00" y2="438.55" stroke="#f1f1f1" stroke-width="1"/>
<line x1="549.20" y1="363.85" x2="549.20" y2="438.55" stroke="#f1f1f1" stroke-width="1"/>
<line x1="581.40" y1="363.85" x2="581.40" y2="438.55" stroke="#f1f1f1" stroke-width="1"/>
<line x1="613.60" y1="363.85" x2="613.60" y2="438.55" stroke="#f1f1f1" stroke-width="1"/>
<line x1="645.80" y1="363.85" x2="645.80" y2="438.55" stroke="#f1f1f1" stroke-width="1"/>
<line x1="500.4" y1="368.24" x2="646.3" y2="368.24" stroke="#f1f1f1" stroke-width="1"/>
<line x1="500.4" y1="375.57" x2="646.3" y2="375.57" stroke="#f1f1f1" stroke-width="1"/>
<line x1="500.4" y1="382.89" x2="646.3" y2="382.89" stroke="#f1f1f1" stroke-width="1"/>
<line x1="500.4" y1="390.21" x2="646.3" y2="390.21" stroke="#f1f1f1" stroke-width="1"/>
<line x1="500.4" y1="397.54" x2="646.3" y2="397.54" stroke="#f1f1f1" stroke-width="1"/>
<line x1="500.4" y1="404.86" x2="646.3" y2="404.86" stroke="#f1f1f1" stroke-width="1"/>
<line x1="500.4" y1="412.19" x2="646.3" y2="412.19" stroke="#f1f1f1" stroke-width="1"/>
<line x1="500.4" y1="419.51" x2="646.3" y2="419.51" stroke="#f1f1f1" stroke-width="1"/>
<line x1="500.4" y1="426.83" x2="646.3" y2="426.83" stroke="#f1f1f1" stroke-width="1"/>
<line x1="500.4" y1="434.16" x2="646.3" y2="434.16" stroke="#f1f1f1" stroke-width="1"/>
<clipPath id="cg1"><rect x="500.4" y="363.85" width="145.89999999999998" height="74.69999999999999"/></clipPath>
<g clip-path="url(#cg1)">
<circle cx="540.32" cy="368.24" r="3.35" fill="#f50030"/>
<circle cx="540.32" cy="375.57" r="3.35" fill="#f50030"/>
<circle cx="540.32" cy="382.89" r="3.35" fill="#f50030"/>
<circle cx="540.32" cy="390.21" r="3.35" fill="#f50030"/>
<circle cx="529.21" cy="397.54" r="3.09" fill="#fc0012"/>
<circle cx="529.21" cy="404.86" r="3.09" fill="#fa001e"/>
<circle cx="529.21" cy="412.19" r="3.09" fill="#5800ee"/>
<circle cx="518.11" cy="419.51" r="2.75" fill="#2000fd"/>
<circle cx="507.01" cy="426.83" r="1.93" fill="#8d00ce"/>
<circle cx="507.01" cy="434.16" r="1.93" fill="#0000ff"/>
</g>
<rect x="500.4" y="363.85" width="145.89999999999998" height="74.69999999999999" fill="none" stroke="#bababa" stroke-width="1.15"/>
<line x1="499.0" y1="368.24" x2="500.4" y2="368.24" stroke="#333" stroke-width="0.7"/>
<text transform="translate(498.10 370.79) scale(0.2500 0.2750)" font-family="'Liberation Sans', sans-serif" font-size="23.680" fill="#111" text-anchor="end">endoplasmic reticulum lumen</text>
<text transform="translate(498.35 370.79) scale(0.2500 0.2750)" font-family="'Liberation Sans', sans-serif" font-size="23.680" fill="#111" fill-opacity="0.4" text-anchor="end">endoplasmic reticulum lumen</text>
<line x1="499.0" y1="375.57" x2="500.4" y2="375.57" stroke="#333" stroke-width="0.7"/>
<text transform="translate(498.10 378.12) scale(0.2500 0.2750)" font-family="'Liberation Sans', sans-serif" font-size="23.680" fill="#111" text-anchor="end">secretory granule lumen</text>
<text transform="translate(498.35 378.12) scale(0.2500 0.2750)" font-family="'Liberation Sans', sans-serif" font-size="23.680" fill="#111" fill-opacity="0.4" text-anchor="end">secretory granule lumen</text>
<line x1="499.0" y1="382.89" x2="500.4" y2="382.89" stroke="#333" stroke-width="0.7"/>
<text transform="translate(498.10 385.44) scale(0.2500 0.2750)" font-family="'Liberation Sans', sans-serif" font-size="23.680" fill="#111" text-anchor="end">cytoplasmic vesicle lumen</text>
<text transform="translate(498.35 385.44) scale(0.2500 0.2750)" font-family="'Liberation Sans', sans-serif" font-size="23.680" fill="#111" fill-opacity="0.4" text-anchor="end">cytoplasmic vesicle lumen</text>
<line x1="499.0" y1="390.21" x2="500.4" y2="390.21" stroke="#333" stroke-width="0.7"/>
<text transform="translate(498.10 392.76) scale(0.2500 0.2750)" font-family="'Liberation Sans', sans-serif" font-size="23.680" fill="#111" text-anchor="end">vesicle lumen</text>
<text transform="translate(498.35 392.76) scale(0.2500 0.2750)" font-family="'Liberation Sans', sans-serif" font-size="23.680" fill="#111" fill-opacity="0.4" text-anchor="end">vesicle lumen</text>
<line x1="499.0" y1="397.54" x2="500.4" y2="397.54" stroke="#333" stroke-width="0.7"/>
<text transform="translate(498.10 400.09) scale(0.2500 0.2750)" font-family="'Liberation Sans', sans-serif" font-size="23.680" fill="#111" text-anchor="end">specific granule</text>
<text transform="translate(498.35 400.09) scale(0.2500 0.2750)" font-family="'Liberation Sans', sans-serif" font-size="23.680" fill="#111" fill-opacity="0.4" text-anchor="end">specific granule</text>
<line x1="499.0" y1="404.86" x2="500.4" y2="404.86" stroke="#333" stroke-width="0.7"/>
<text transform="translate(498.10 407.41) scale(0.2500 0.2750)" font-family="'Liberation Sans', sans-serif" font-size="23.680" fill="#111" text-anchor="end">tertiary granule</text>
<text transform="translate(498.35 407.41) scale(0.2500 0.2750)" font-family="'Liberation Sans', sans-serif" font-size="23.680" fill="#111" fill-opacity="0.4" text-anchor="end">tertiary granule</text>
<line x1="499.0" y1="412.19" x2="500.4" y2="412.19" stroke="#333" stroke-width="0.7"/>
<text transform="translate(498.10 414.74) scale(0.2500 0.2750)" font-family="'Liberation Sans', sans-serif" font-size="23.680" fill="#111" text-anchor="end">secretory granule membrane</text>
<text transform="translate(498.35 414.74) scale(0.2500 0.2750)" font-family="'Liberation Sans', sans-serif" font-size="23.680" fill="#111" fill-opacity="0.4" text-anchor="end">secretory granule membrane</text>
<line x1="499.0" y1="419.51" x2="500.4" y2="419.51" stroke="#333" stroke-width="0.7"/>
<text transform="translate(498.10 422.06) scale(0.2500 0.2750)" font-family="'Liberation Sans', sans-serif" font-size="23.680" fill="#111" text-anchor="end">anchored component of membrane</text>
<text transform="translate(498.35 422.06) scale(0.2500 0.2750)" font-family="'Liberation Sans', sans-serif" font-size="23.680" fill="#111" fill-opacity="0.4" text-anchor="end">anchored component of membrane</text>
<line x1="499.0" y1="426.83" x2="500.4" y2="426.83" stroke="#333" stroke-width="0.7"/>
<text transform="translate(498.10 429.38) scale(0.2500 0.2750)" font-family="'Liberation Sans', sans-serif" font-size="23.680" fill="#111" text-anchor="end">tertiary granule lumen</text>
<text transform="translate(498.35 429.38) scale(0.2500 0.2750)" font-family="'Liberation Sans', sans-serif" font-size="23.680" fill="#111" fill-opacity="0.4" text-anchor="end">tertiary granule lumen</text>
<line x1="499.0" y1="434.16" x2="500.4" y2="434.16" stroke="#333" stroke-width="0.7"/>
<text transform="translate(498.10 436.71) scale(0.2500 0.2750)" font-family="'Liberation Sans', sans-serif" font-size="23.680" fill="#111" text-anchor="end">ficolin−1−rich granule membrane</text>
<text transform="translate(498.35 436.71) scale(0.2500 0.2750)" font-family="'Liberation Sans', sans-serif" font-size="23.680" fill="#111" fill-opacity="0.4" text-anchor="end">ficolin−1−rich granule membrane</text>
<rect x="646.8" y="363.85" width="8" height="74.70" fill="#d9d9d9" stroke="#8a8a8a" stroke-width="0.8"/>
<text x="0" y="0" transform="translate(649.2 401.20) rotate(90)" font-family="'Liberation Sans', sans-serif" font-size="4.8" fill="#333" text-anchor="middle">CC</text>
<rect x="500.4" y="441.55" width="145.89999999999998" height="74.69999999999999" fill="#fff"/>
<line x1="500.90" y1="441.55" x2="500.90" y2="516.25" stroke="#f1f1f1" stroke-width="0.8"/>
<line x1="533.10" y1="441.55" x2="533.10" y2="516.25" stroke="#f1f1f1" stroke-width="0.8"/>
<line x1="565.30" y1="441.55" x2="565.30" y2="516.25" stroke="#f1f1f1" stroke-width="0.8"/>
<line x1="597.50" y1="441.55" x2="597.50" y2="516.25" stroke="#f1f1f1" stroke-width="0.8"/>
<line x1="629.70" y1="441.55" x2="629.70" y2="516.25" stroke="#f1f1f1" stroke-width="0.8"/>
<line x1="517.00" y1="441.55" x2="517.00" y2="516.25" stroke="#f1f1f1" stroke-width="1"/>
<line x1="549.20" y1="441.55" x2="549.20" y2="516.25" stroke="#f1f1f1" stroke-width="1"/>
<line x1="581.40" y1="441.55" x2="581.40" y2="516.25" stroke="#f1f1f1" stroke-width="1"/>
<line x1="613.60" y1="441.55" x2="613.60" y2="516.25" stroke="#f1f1f1" stroke-width="1"/>
<line x1="645.80" y1="441.55" x2="645.80" y2="516.25" stroke="#f1f1f1" stroke-width="1"/>
<line x1="500.4" y1="445.94" x2="646.3" y2="445.94" stroke="#f1f1f1" stroke-width="1"/>
<line x1="500.4" y1="453.27" x2="646.3" y2="453.27" stroke="#f1f1f1" stroke-width="1"/>
<line x1="500.4" y1="460.59" x2="646.3" y2="460.59" stroke="#f1f1f1" stroke-width="1"/>
<line x1="500.4" y1="467.91" x2="646.3" y2="467.91" stroke="#f1f1f1" stroke-width="1"/>
<line x1="500.4" y1="475.24" x2="646.3" y2="475.24" stroke="#f1f1f1" stroke-width="1"/>
<line x1="500.4" y1="482.56" x2="646.3" y2="482.56" stroke="#f1f1f1" stroke-width="1"/>
<line x1="500.4" y1="489.89" x2="646.3" y2="489.89" stroke="#f1f1f1" stroke-width="1"/>
<line x1="500.4" y1="497.21" x2="646.3" y2="497.21" stroke="#f1f1f1" stroke-width="1"/>
<line x1="500.4" y1="504.53" x2="646.3" y2="504.53" stroke="#f1f1f1" stroke-width="1"/>
<line x1="500.4" y1="511.86" x2="646.3" y2="511.86" stroke="#f1f1f1" stroke-width="1"/>
<clipPath id="cg2"><rect x="500.4" y="441.55" width="145.89999999999998" height="74.69999999999999"/></clipPath>
<g clip-path="url(#cg2)">
<circle cx="639.84" cy="445.94" r="4.65" fill="#ff0000"/>
<circle cx="639.84" cy="453.27" r="4.65" fill="#ff0000"/>
<circle cx="615.99" cy="460.59" r="4.39" fill="#ff0000"/>
<circle cx="604.06" cy="467.91" r="4.25" fill="#ff0000"/>
<circle cx="604.06" cy="475.24" r="4.25" fill="#ff0000"/>
<circle cx="568.28" cy="482.56" r="3.76" fill="#ff0000"/>
<circle cx="568.28" cy="489.89" r="3.76" fill="#ff0000"/>
<circle cx="556.36" cy="497.21" r="3.57" fill="#ff0000"/>
<circle cx="532.50" cy="504.53" r="3.09" fill="#ff0000"/>
<circle cx="520.58" cy="511.86" r="2.75" fill="#fd000d"/>
</g>
<rect x="500.4" y="441.55" width="145.89999999999998" height="74.69999999999999" fill="none" stroke="#bababa" stroke-width="1.15"/>
<line x1="499.0" y1="445.94" x2="500.4" y2="445.94" stroke="#333" stroke-width="0.7"/>
<text transform="translate(498.10 448.49) scale(0.2500 0.2750)" font-family="'Liberation Sans', sans-serif" font-size="23.680" fill="#111" text-anchor="end">receptor ligand activity</text>
<text transform="translate(498.35 448.49) scale(0.2500 0.2750)" font-family="'Liberation Sans', sans-serif" font-size="23.680" fill="#111" fill-opacity="0.4" text-anchor="end">receptor ligand activity</text>
<line x1="499.0" y1="453.27" x2="500.4" y2="453.27" stroke="#333" stroke-width="0.7"/>
<text transform="translate(498.10 455.82) scale(0.2500 0.2750)" font-family="'Liberation Sans', sans-serif" font-size="23.680" fill="#111" text-anchor="end">signaling receptor activator activity</text>
<text transform="translate(498.35 455.82) scale(0.2500 0.2750)" font-family="'Liberation Sans', sans-serif" font-size="23.680" fill="#111" fill-opacity="0.4" text-anchor="end">signaling receptor activator activity</text>
<line x1="499.0" y1="460.59" x2="500.4" y2="460.59" stroke="#333" stroke-width="0.7"/>
<text transform="translate(498.10 463.14) scale(0.2500 0.2750)" font-family="'Liberation Sans', sans-serif" font-size="23.680" fill="#111" text-anchor="end">G protein−coupled receptor binding</text>
<text transform="translate(498.35 463.14) scale(0.2500 0.2750)" font-family="'Liberation Sans', sans-serif" font-size="23.680" fill="#111" fill-opacity="0.4" text-anchor="end">G protein−coupled receptor binding</text>
<line x1="499.0" y1="467.91" x2="500.4" y2="467.91" stroke="#333" stroke-width="0.7"/>
<text transform="translate(498.10 470.46) scale(0.2500 0.2750)" font-family="'Liberation Sans', sans-serif" font-size="23.680" fill="#111" text-anchor="end">cytokine activity</text>
<text transform="translate(498.35 470.46) scale(0.2500 0.2750)" font-family="'Liberation Sans', sans-serif" font-size="23.680" fill="#111" fill-opacity="0.4" text-anchor="end">cytokine activity</text>
<line x1="499.0" y1="475.24" x2="500.4" y2="475.24" stroke="#333" stroke-width="0.7"/>
<text transform="translate(498.10 477.79) scale(0.2500 0.2750)" font-family="'Liberation Sans', sans-serif" font-size="23.680" fill="#111" text-anchor="end">cytokine receptor binding</text>
<text transform="translate(498.35 477.79) scale(0.2500 0.2750)" font-family="'Liberation Sans', sans-serif" font-size="23.680" fill="#111" fill-opacity="0.4" text-anchor="end">cytokine receptor binding</text>
<line x1="499.0" y1="482.56" x2="500.4" y2="482.56" stroke="#333" stroke-width="0.7"/>
<text transform="translate(498.10 485.11) scale(0.2500 0.2750)" font-family="'Liberation Sans', sans-serif" font-size="23.680" fill="#111" text-anchor="end">chemokine activity</text>
<text transform="translate(498.35 485.11) scale(0.2500 0.2750)" font-family="'Liberation Sans', sans-serif" font-size="23.680" fill="#111" fill-opacity="0.4" text-anchor="end">chemokine activity</text>
<line x1="499.0" y1="489.89" x2="500.4" y2="489.89" stroke="#333" stroke-width="0.7"/>
<text transform="translate(498.10 492.44) scale(0.2500 0.2750)" font-family="'Liberation Sans', sans-serif" font-size="23.680" fill="#111" text-anchor="end">chemokine receptor binding</text>
<text transform="translate(498.35 492.44) scale(0.2500 0.2750)" font-family="'Liberation Sans', sans-serif" font-size="23.680" fill="#111" fill-opacity="0.4" text-anchor="end">chemokine receptor binding</text>
<line x1="499.0" y1="497.21" x2="500.4" y2="497.21" stroke="#333" stroke-width="0.7"/>
<text transform="translate(498.10 499.76) scale(0.2500 0.2750)" font-family="'Liberation Sans', sans-serif" font-size="23.680" fill="#111" text-anchor="end">CXCR chemokine receptor binding</text>
<text transform="translate(498.35 499.76) scale(0.2500 0.2750)" font-family="'Liberation Sans', sans-serif" font-size="23.680" fill="#111" fill-opacity="0.4" text-anchor="end">CXCR chemokine receptor binding</text>
<line x1="499.0" y1="504.53" x2="500.4" y2="504.53" stroke="#333" stroke-width="0.7"/>
<text transform="translate(498.10 507.08) scale(0.2500 0.2750)" font-family="'Liberation Sans', sans-serif" font-size="23.680" fill="#111" text-anchor="end">calcium−dependent protein binding</text>
<text transform="translate(498.35 507.08) scale(0.2500 0.2750)" font-family="'Liberation Sans', sans-serif" font-size="23.680" fill="#111" fill-opacity="0.4" text-anchor="end">calcium−dependent protein binding</text>
<line x1="499.0" y1="511.86" x2="500.4" y2="511.86" stroke="#333" stroke-width="0.7"/>
<text transform="translate(498.10 514.41) scale(0.2500 0.2750)" font-family="'Liberation Sans', sans-serif" font-size="23.680" fill="#111" text-anchor="end">RAGE receptor binding</text>
<text transform="translate(498.35 514.41) scale(0.2500 0.2750)" font-family="'Liberation Sans', sans-serif" font-size="23.680" fill="#111" fill-opacity="0.4" text-anchor="end">RAGE receptor binding</text>
<rect x="646.8" y="441.55" width="8" height="74.70" fill="#d9d9d9" stroke="#8a8a8a" stroke-width="0.8"/>
<text x="0" y="0" transform="translate(649.2 478.90) rotate(90)" font-family="'Liberation Sans', sans-serif" font-size="4.8" fill="#333" text-anchor="middle">MF</text>
<line x1="517.00" y1="516.25" x2="517.00" y2="517.7" stroke="#333" stroke-width="0.7"/>
<text transform="translate(517.00 523.80) scale(0.2500 0.2750)" font-family="'Liberation Sans', sans-serif" font-size="23.680" fill="#111" text-anchor="middle">0.05</text>
<text transform="translate(517.25 523.80) scale(0.2500 0.2750)" font-family="'Liberation Sans', sans-serif" font-size="23.680" fill="#111" fill-opacity="0.4" text-anchor="middle">0.05</text>
<line x1="549.20" y1="516.25" x2="549.20" y2="517.7" stroke="#333" stroke-width="0.7"/>
<text transform="translate(549.20 523.80) scale(0.2500 0.2750)" font-family="'Liberation Sans', sans-serif" font-size="23.680" fill="#111" text-anchor="middle">0.10</text>
<text transform="translate(549.45 523.80) scale(0.2500 0.2750)" font-family="'Liberation Sans', sans-serif" font-size="23.680" fill="#111" fill-opacity="0.4" text-anchor="middle">0.10</text>
<line x1="581.40" y1="516.25" x2="581.40" y2="517.7" stroke="#333" stroke-width="0.7"/>
<text transform="translate(581.40 523.80) scale(0.2500 0.2750)" font-family="'Liberation Sans', sans-serif" font-size="23.680" fill="#111" text-anchor="middle">0.15</text>
<text transform="translate(581.65 523.80) scale(0.2500 0.2750)" font-family="'Liberation Sans', sans-serif" font-size="23.680" fill="#111" fill-opacity="0.4" text-anchor="middle">0.15</text>
<line x1="613.60" y1="516.25" x2="613.60" y2="517.7" stroke="#333" stroke-width="0.7"/>
<text transform="translate(613.60 523.80) scale(0.2500 0.2750)" font-family="'Liberation Sans', sans-serif" font-size="23.680" fill="#111" text-anchor="middle">0.20</text>
<text transform="translate(613.85 523.80) scale(0.2500 0.2750)" font-family="'Liberation Sans', sans-serif" font-size="23.680" fill="#111" fill-opacity="0.4" text-anchor="middle">0.20</text>
<line x1="645.80" y1="516.25" x2="645.80" y2="517.7" stroke="#333" stroke-width="0.7"/>
<text transform="translate(645.80 523.80) scale(0.2500 0.2750)" font-family="'Liberation Sans', sans-serif" font-size="23.680" fill="#111" text-anchor="middle">0.25</text>
<text transform="translate(646.05 523.80) scale(0.2500 0.2750)" font-family="'Liberation Sans', sans-serif" font-size="23.680" fill="#111" fill-opacity="0.4" text-anchor="middle">0.25</text>
<text transform="translate(573.40 530.60) scale(0.2500 0.2750)" font-family="'Liberation Sans', sans-serif" font-size="23.680" fill="#000" text-anchor="middle">GeneRatio</text>
<text transform="translate(573.65 530.60) scale(0.2500 0.2750)" font-family="'Liberation Sans', sans-serif" font-size="23.680" fill="#000" fill-opacity="0.4" text-anchor="middle">GeneRatio</text>
<text transform="translate(663.00 345.00) scale(0.2500 0.2750)" font-family="'Liberation Sans', sans-serif" font-size="21.600" fill="#000">Count</text>
<text transform="translate(663.25 345.00) scale(0.2500 0.2750)" font-family="'Liberation Sans', sans-serif" font-size="21.600" fill="#000" fill-opacity="0.4">Count</text>
<circle cx="668.3" cy="352.9" r="2.45" fill="#000"/>
<text transform="translate(676.50 354.70) scale(0.2500 0.3000)" font-family="'Liberation Sans', sans-serif" font-size="17.800" fill="#111">2.5</text>
<text transform="translate(676.75 354.70) scale(0.2500 0.3000)" font-family="'Liberation Sans', sans-serif" font-size="17.800" fill="#111" fill-opacity="0.4">2.5</text>
<circle cx="668.3" cy="361.9" r="3.35" fill="#000"/>
<text transform="translate(676.50 363.70) scale(0.2500 0.3000)" font-family="'Liberation Sans', sans-serif" font-size="17.800" fill="#111">5.0</text>
<text transform="translate(676.75 363.70) scale(0.2500 0.3000)" font-family="'Liberation Sans', sans-serif" font-size="17.800" fill="#111" fill-opacity="0.4">5.0</text>
<circle cx="668.3" cy="371.2" r="3.9" fill="#000"/>
<text transform="translate(676.50 373.00) scale(0.2500 0.3000)" font-family="'Liberation Sans', sans-serif" font-size="17.800" fill="#111">7.5</text>
<text transform="translate(676.75 373.00) scale(0.2500 0.3000)" font-family="'Liberation Sans', sans-serif" font-size="17.800" fill="#111" fill-opacity="0.4">7.5</text>
<circle cx="668.3" cy="381.3" r="4.25" fill="#000"/>
<text transform="translate(676.50 383.10) scale(0.2500 0.3000)" font-family="'Liberation Sans', sans-serif" font-size="17.800" fill="#111">10.0</text>
<text transform="translate(676.75 383.10) scale(0.2500 0.3000)" font-family="'Liberation Sans', sans-serif" font-size="17.800" fill="#111" fill-opacity="0.4">10.0</text>
<circle cx="668.3" cy="392.6" r="4.55" fill="#000"/>
<text transform="translate(676.50 394.40) scale(0.2500 0.3000)" font-family="'Liberation Sans', sans-serif" font-size="17.800" fill="#111">12.5</text>
<text transform="translate(676.75 394.40) scale(0.2500 0.3000)" font-family="'Liberation Sans', sans-serif" font-size="17.800" fill="#111" fill-opacity="0.4">12.5</text>
<text transform="translate(662.90 414.50) scale(0.2500 0.2750)" font-family="'Liberation Sans', sans-serif" font-size="21.600" fill="#000">pvalue</text>
<text transform="translate(663.15 414.50) scale(0.2500 0.2750)" font-family="'Liberation Sans', sans-serif" font-size="21.600" fill="#000" fill-opacity="0.4">pvalue</text>
<linearGradient id="gg" x1="0" y1="0" x2="0" y2="1"><stop offset="0.0" stop-color="#0000ff"/><stop offset="0.1" stop-color="#6800e7"/><stop offset="0.2" stop-color="#8d00ce"/><stop offset="0.3" stop-color="#a600b7"/><stop offset="0.4" stop-color="#ba009f"/><stop offset="0.5" stop-color="#ca0088"/><stop offset="0.6" stop-color="#d70072"/><stop offset="0.7" stop-color="#e3005b"/><stop offset="0.8" stop-color="#ed0044"/><stop offset="0.9" stop-color="#f6002a"/><stop offset="1.0" stop-color="#ff0000"/></linearGradient>
<rect x="663.0" y="417.9" width="8.30" height="44.20" fill="url(#gg)"/>
<line x1="663.0" y1="430.8" x2="664.6" y2="430.8" stroke="#fff" stroke-width="0.5" stroke-opacity="0.6"/>
<line x1="669.6999999999999" y1="430.8" x2="671.3" y2="430.8" stroke="#fff" stroke-width="0.5" stroke-opacity="0.6"/>
<text transform="translate(673.50 432.60) scale(0.2500 0.3000)" font-family="'Liberation Sans', sans-serif" font-size="17.800" fill="#111">0.010</text>
<text transform="translate(673.75 432.60) scale(0.2500 0.3000)" font-family="'Liberation Sans', sans-serif" font-size="17.800" fill="#111" fill-opacity="0.4">0.010</text>
<line x1="663.0" y1="446.3" x2="664.6" y2="446.3" stroke="#fff" stroke-width="0.5" stroke-opacity="0.6"/>
<line x1="669.6999999999999" y1="446.3" x2="671.3" y2="446.3" stroke="#fff" stroke-width="0.5" stroke-opacity="0.6"/>
<text transform="translate(673.50 448.10) scale(0.2500 0.3000)" font-family="'Liberation Sans', sans-serif" font-size="17.800" fill="#111">0.005</text>
<text transform="translate(673.75 448.10) scale(0.2500 0.3000)" font-family="'Liberation Sans', sans-serif" font-size="17.800" fill="#111" fill-opacity="0.4">0.005</text>
</svg></body></html>
